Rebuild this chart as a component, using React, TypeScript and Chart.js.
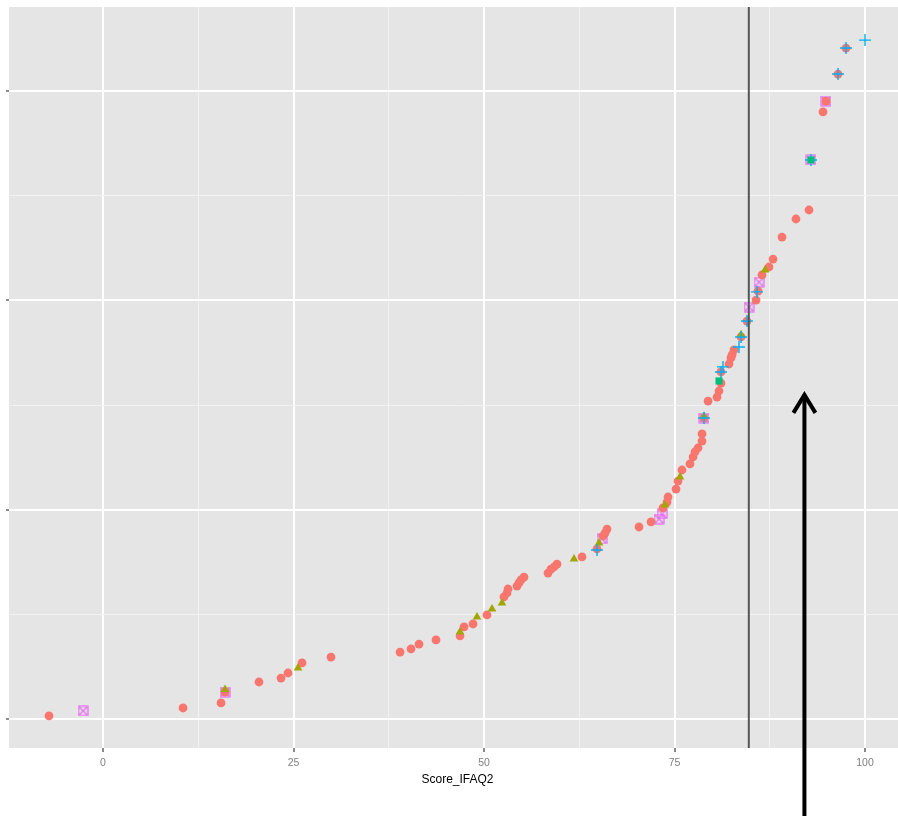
import React, { useEffect, useRef } from 'react';
import { Chart, registerables } from 'chart.js';
Chart.register(...registerables);

// Axis ticks
const xMajor = [0, 25, 50, 75, 100];
const xMinor = [12.5, 37.5, 62.5, 87.5];
const yMajor = [0, 100, 200, 300];
const yMinor = [50, 150, 250];
const xTitle = 'Score_IFAQ2';
const cutoffX = 84.75;
const arrowX = 92.05;
const arrowTipY = 155.8;

// Group 1: red circles
const redX = [-7.09, 10.5, 15.49, 16.01, 20.47, 23.36, 24.28, 26.12, 29.92, 38.98, 40.42, 41.47, 43.7, 46.85, 47.38, 48.56, 50.39, 52.62, 53.02, 53.15, 54.33, 54.59, 54.86, 55.25, 58.4, 58.79, 59.19, 59.58, 62.86, 64.83, 65.62, 65.88, 66.14, 70.34, 71.92, 73.49, 74.02, 74.15, 75.2, 75.46, 75.98, 77.03, 77.43, 77.69, 78.08, 78.61, 78.61, 78.87, 79.4, 80.58, 80.84, 81.1, 81.1, 82.15, 82.41, 82.55, 82.81, 83.73, 84.51, 85.7, 85.96, 86.48, 87.4, 87.93, 89.11, 90.94, 92.65, 94.49, 94.88, 96.46, 97.51];
const redY = [1.6, 5.4, 7.8, 13.0, 17.8, 19.7, 22.1, 26.9, 29.7, 32.1, 33.6, 35.9, 37.9, 39.8, 44.1, 45.5, 49.8, 58.4, 60.3, 62.2, 63.6, 65.1, 66.5, 67.9, 69.8, 71.7, 72.7, 74.1, 77.5, 81.3, 87.5, 88.9, 90.8, 91.8, 94.2, 100.9, 103.7, 106.1, 109.9, 113.7, 119.0, 121.9, 125.2, 127.6, 129.5, 132.8, 136.2, 143.8, 151.9, 153.8, 156.7, 160.5, 165.8, 169.6, 172.5, 173.9, 176.3, 182.5, 190.1, 200.1, 204.4, 212.1, 215.9, 219.7, 230.2, 238.8, 243.1, 289.9, 295.1, 308.0, 320.4];

// Group 2: olive triangles
const oliveX = [16.01, 25.59, 46.85, 49.08, 51.05, 52.36, 61.81, 65.09, 73.75, 75.72, 78.87, 83.73, 86.88];
const oliveY = [14.2, 24.5, 41.7, 48.8, 52.6, 55.5, 76.5, 84.2, 102.3, 115.7, 144.6, 183.6, 214.5];

// Group 3: green squares
const greenX = [92.91, 80.84];
const greenY = [267.0, 161.5];

// Group 4: blue plus
const blueX = [100.0, 97.51, 96.46, 92.91, 85.83, 84.51, 83.73, 83.46, 81.36, 81.1, 78.87, 64.83];
const blueY = [324.2, 320.4, 308.0, 267.0, 204.0, 190.1, 182.5, 177.7, 168.2, 165.8, 143.8, 80.8];

// Group 5: magenta boxed cross
const magX = [-2.62, 16.01, 65.49, 72.97, 73.36, 78.87, 84.78, 86.09, 94.88, 92.91];
const magY = [4.0, 13.0, 86.1, 95.6, 98.0, 143.8, 196.8, 208.7, 295.1, 267.0];

const pts = (xs: number[], ys: number[]) => xs.map((x, i) => ({ x, y: ys[i] }));

function boxedCross(color: string): HTMLCanvasElement {
  const c = document.createElement('canvas');
  c.width = 11;
  c.height = 11;
  const g = c.getContext('2d')!;
  g.strokeStyle = color;
  g.lineWidth = 1.2;
  g.strokeRect(1, 1, 9, 9);
  g.beginPath();
  g.moveTo(1, 1);
  g.lineTo(10, 10);
  g.moveTo(10, 1);
  g.lineTo(1, 10);
  g.stroke();
  return c;
}

export default function App() {
  const ref = useRef<HTMLCanvasElement | null>(null);
  useEffect(() => {
    if (!ref.current) return;
    const isMinorX = (v: number) => xMinor.includes(v);
    const isMinorY = (v: number) => yMinor.includes(v);

    const bgPlugin = {
      id: 'panelBg',
      beforeDraw(chart: any) {
        const { ctx, chartArea: a } = chart;
        ctx.save();
        ctx.fillStyle = '#FFFFFF';
        ctx.fillRect(0, 0, chart.width, chart.height);
        ctx.fillStyle = '#E5E5E5';
        ctx.fillRect(a.left, a.top, a.right - a.left, a.bottom - a.top);
        ctx.restore();
      },
      afterDatasetsDraw(chart: any) {
        const { ctx, chartArea: a, scales } = chart;
        const px = scales.x.getPixelForValue(cutoffX);
        ctx.save();
        ctx.strokeStyle = '#555555';
        ctx.lineWidth = 2;
        ctx.beginPath();
        ctx.moveTo(px, a.top);
        ctx.lineTo(px, a.bottom);
        ctx.stroke();
        ctx.restore();
      },
      afterDraw(chart: any) {
        const { ctx, scales } = chart;
        const ax = scales.x.getPixelForValue(arrowX);
        const ay = scales.y.getPixelForValue(arrowTipY);
        ctx.save();
        ctx.strokeStyle = '#000000';
        ctx.lineWidth = 4;
        ctx.lineJoin = 'miter';
        ctx.beginPath();
        ctx.moveTo(ax, chart.height + 2);
        ctx.lineTo(ax, ay + 2);
        ctx.stroke();
        ctx.beginPath();
        ctx.moveTo(ax - 11, ay + 20);
        ctx.lineTo(ax, ay + 2);
        ctx.lineTo(ax + 11, ay + 20);
        ctx.stroke();
        ctx.restore();
      },
    };

    const chart = new Chart(ref.current, {
      type: 'scatter',
      data: {
        datasets: [
          {
            label: 'g3',
            data: pts(greenX, greenY),
            pointStyle: 'rect',
            pointRadius: 5,
            backgroundColor: '#00BF7D',
            borderWidth: 0,
          },
          {
            label: 'g4',
            data: pts(blueX, blueY),
            pointStyle: 'cross',
            pointRadius: 6,
            borderColor: '#00B0F6',
            borderWidth: 1.4,
          },
          {
            label: 'g2',
            data: pts(oliveX, oliveY),
            pointStyle: 'triangle',
            pointRadius: 5,
            backgroundColor: '#A3A500',
            borderWidth: 0,
          },
          {
            label: 'g1',
            data: pts(redX, redY),
            pointStyle: 'circle',
            pointRadius: 4.4,
            backgroundColor: '#F8766D',
            borderWidth: 0,
          },
          {
            label: 'g5',
            data: pts(magX, magY),
            pointStyle: boxedCross('#E76BF3'),
            pointRadius: 5,
            backgroundColor: '#E76BF3',
            borderWidth: 0,
          },
        ],
      },
      options: {
        animation: false,
        responsive: false,
        devicePixelRatio: 1,
        layout: { autoPadding: false, padding: { top: 7, left: 0, right: 0, bottom: 0 } },
        plugins: { legend: { display: false }, tooltip: { enabled: false } },
        scales: {
          x: {
            type: 'linear',
            min: -12.34,
            max: 105.38,
            afterBuildTicks: (s: any) => {
              s.ticks = [...xMajor, ...xMinor].sort((a, b) => a - b).map((v) => ({ value: v }));
            },
            afterFit: (s: any) => {
              s.height = 68;
              s.paddingLeft = 0;
              s.paddingRight = 0;
            },
            border: { display: false },
            grid: {
              color: (c: any) => (c.tick && isMinorX(c.tick.value) ? '#F2F2F2' : '#FFFFFF'),
              lineWidth: (c: any) => (c.tick && isMinorX(c.tick.value) ? 1 : 2),
              tickColor: (c: any) => (c.tick && isMinorX(c.tick.value) ? 'rgba(0,0,0,0)' : '#8A8A8A'),
              tickLength: 4,
              drawTicks: true,
            },
            ticks: {
              autoSkip: false,
              maxRotation: 0,
              padding: 5,
              color: '#7F7F7F',
              font: { family: '"Liberation Sans", Arial, sans-serif', size: 10.5 },
              callback: (v: any) => (xMajor.includes(Number(v)) ? String(v) : ''),
            },
            title: {
              display: true,
              text: xTitle,
              color: '#000000',
              font: { family: '"Liberation Sans", Arial, sans-serif', size: 12 },
              padding: { top: 0, bottom: 29 },
            },
          },
          y: {
            type: 'linear',
            min: -13.7,
            max: 340.0,
            afterBuildTicks: (s: any) => {
              s.ticks = [...yMajor, ...yMinor].sort((a, b) => a - b).map((v) => ({ value: v }));
            },
            afterFit: (s: any) => {
              s.width = 9;
              s.paddingTop = 0;
              s.paddingBottom = 0;
            },
            border: { display: false },
            grid: {
              color: (c: any) => (c.tick && isMinorY(c.tick.value) ? '#F2F2F2' : '#FFFFFF'),
              lineWidth: (c: any) => (c.tick && isMinorY(c.tick.value) ? 1 : 2),
              tickColor: (c: any) => (c.tick && isMinorY(c.tick.value) ? 'rgba(0,0,0,0)' : '#8A8A8A'),
              tickLength: 3,
              drawTicks: true,
            },
            ticks: { display: false },
          },
        },
      },
      plugins: [bgPlugin],
    });
    return () => chart.destroy();
  }, []);

  return (
    <div style={{ position: 'absolute', left: 0, top: 0, width: 898, height: 816, overflow: 'hidden', background: '#fff' }}>
      <div style={{ position: 'relative', width: 906, height: 816 }}>
        <canvas ref={ref} width={906} height={816} style={{ width: 906, height: 816, display: 'block' }} />
      </div>
    </div>
  );
}
